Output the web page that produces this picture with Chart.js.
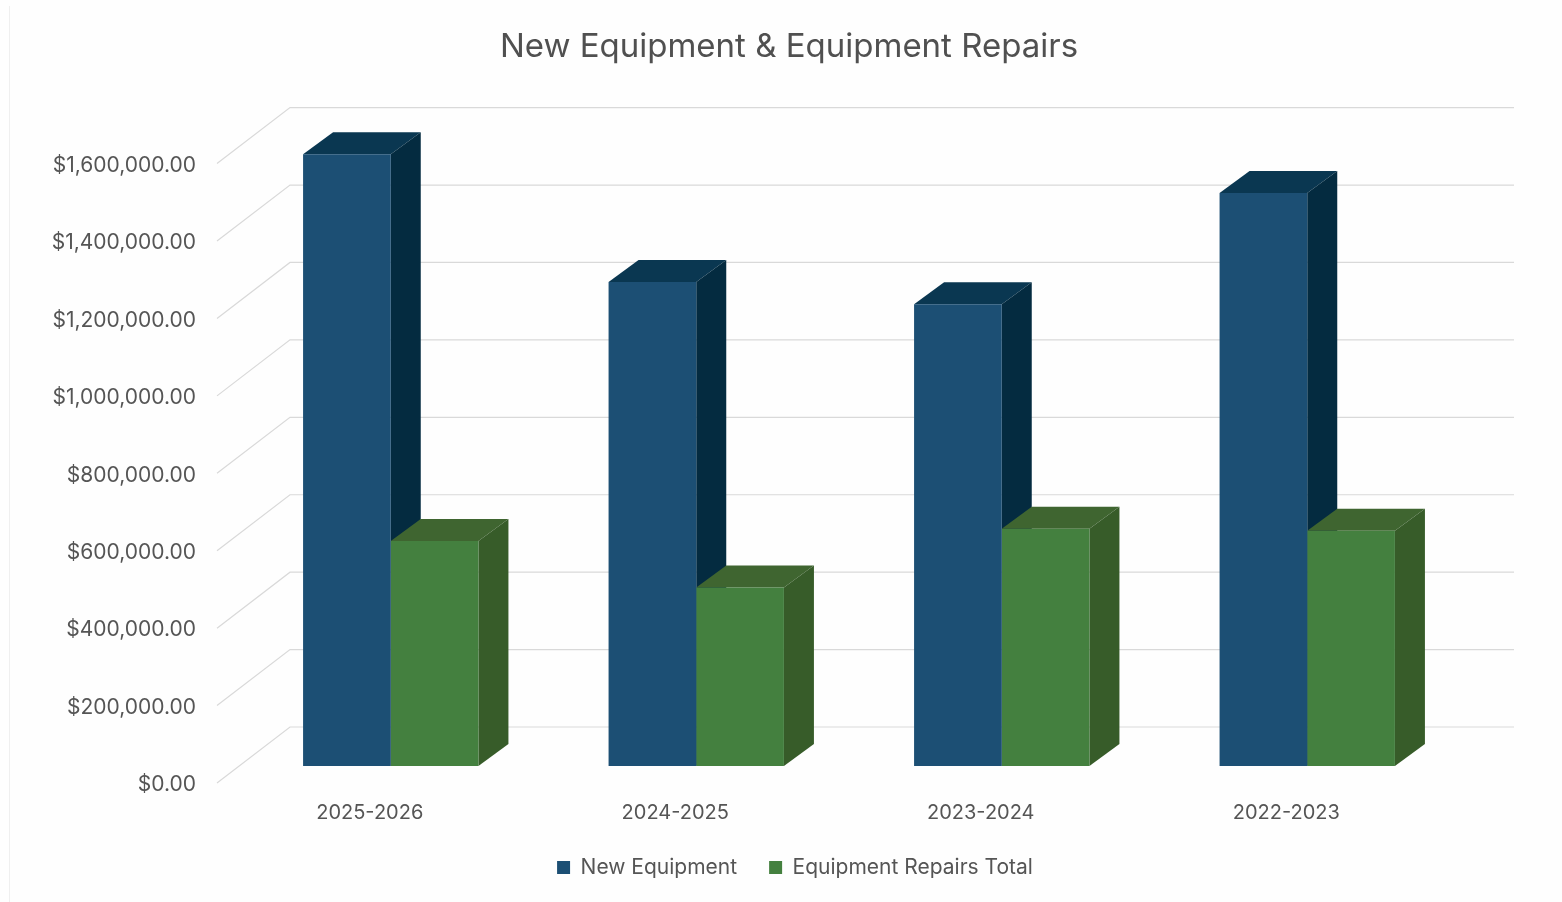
<!DOCTYPE html>
<html>
<head>
<meta charset="utf-8">
<title>New Equipment & Equipment Repairs</title>
<script src="https://cdn.jsdelivr.net/npm/chart.js@4"></script>
<style>
    html, body { margin: 0; padding: 0; background: #fefefe; }
    #wrap { position: relative; width: 1562px; height: 902px; overflow: hidden; }
    #paperEdge { position: absolute; left: 9px; top: 6px; width: 1px; height: 896px; background: #efefef; }
</style>
</head>
<body>
<div id="wrap">
    <div id="paperEdge"></div>
    <canvas id="equipChart" width="1562" height="902"></canvas>
</div>
<script>
const years = ['2025-2026', '2024-2025', '2023-2024', '2022-2023'];
const newEquipment = [1580000, 1250000, 1193000, 1480000];
const repairsTotal = [581000, 461000, 613000, 608000];
const tickStep = 200000;
const axisMax = 1600000;

const textColor = '#555555';
const fontName = 'Inter';

// bars sit part way into the floor, the walls at the back of it
const barShift = { x: 21, y: -17 };
const barDepth = { x: 30, y: -22 };
const wallDepth = { x: 73, y: -56 };

const faces = [
    { front: '#1c4f74', top: '#0a3751', side: '#042b40' },
    { front: '#44803f', top: '#3f6530', side: '#375c29' }
];

function polygon(ctx, pts, color) {
    ctx.fillStyle = color;
    ctx.beginPath();
    pts.forEach((p, i) => i ? ctx.lineTo(p[0], p[1]) : ctx.moveTo(p[0], p[1]));
    ctx.closePath();
    ctx.fill();
}

const walls = {
    id: 'walls',
    beforeDatasetsDraw(chart) {
        const ctx = chart.ctx;
        const yScale = chart.scales.y;
        const area = chart.chartArea;
        ctx.save();
        ctx.strokeStyle = '#d9d9d9';
        ctx.lineWidth = 1.2;
        for (let v = 0; v <= axisMax; v += tickStep) {
            const y = yScale.getPixelForValue(v);
            ctx.beginPath();
            ctx.moveTo(area.left, y);
            ctx.lineTo(area.left + wallDepth.x, y + wallDepth.y);
            ctx.lineTo(1514, y + wallDepth.y);
            ctx.stroke();
        }
        ctx.restore();
    },
    afterLayout(chart) {
        // legend sits a little right of the title in the original
        chart.legend.left += 6;
        chart.legend.right += 6;
    }
};

const bars3d = {
    id: 'bars3d',
    // top and side faces go down first, blue then green, so green covers the blue side
    beforeDatasetsDraw(chart) {
        const ctx = chart.ctx;
        ctx.save();
        ctx.translate(barShift.x, barShift.y);
        chart.data.datasets.forEach((ds, i) => {
            const color = faces[i];
            chart.getDatasetMeta(i).data.forEach(bar => {
                const l = bar.x - bar.width / 2;
                const r = bar.x + bar.width / 2;
                polygon(ctx, [[l, bar.y], [l + barDepth.x, bar.y + barDepth.y],
                    [r + barDepth.x, bar.y + barDepth.y], [r, bar.y]], color.top);
                polygon(ctx, [[r, bar.y], [r + barDepth.x, bar.y + barDepth.y],
                    [r + barDepth.x, bar.base + barDepth.y], [r, bar.base]], color.side);
            });
        });
        ctx.restore();
    },
    beforeDatasetDraw(chart) {
        chart.ctx.save();
        chart.ctx.translate(barShift.x, barShift.y);
    },
    afterDatasetDraw(chart) {
        chart.ctx.restore();
    }
};

new Chart(document.getElementById('equipChart'), {
    type: 'bar',
    data: {
        labels: years,
        datasets: [{
            label: 'New Equipment',
            data: newEquipment,
            backgroundColor: faces[0].front,
            clip: false
        }, {
            label: 'Equipment Repairs Total',
            data: repairsTotal,
            backgroundColor: faces[1].front,
            clip: false
        }]
    },
    options: {
        responsive: false,
        animation: false,
        layout: { padding: { left: 16, right: 0, top: 23, bottom: 14 } },
        datasets: { bar: { barPercentage: 1, categoryPercentage: 0.574 } },
        scales: {
            x: {
                grid: { display: false },
                border: { display: false },
                ticks: { color: textColor, font: { family: fontName, size: 20 }, padding: 10, maxRotation: 0 },
                afterFit(scale) { scale.height = 42; }
            },
            y: {
                min: 0,
                max: axisMax,
                grid: { display: false },
                border: { display: false },
                ticks: {
                    stepSize: tickStep,
                    color: textColor,
                    padding: 13,
                    labelOffset: 2,
                    font: { family: fontName, size: 21 },
                    callback: v => '$' + v.toLocaleString('en-US', { minimumFractionDigits: 2 })
                },
                afterFit(scale) { scale.width = 201; }
            },
            spacer: {
                position: 'right',
                grid: { display: false },
                border: { display: false },
                ticks: { display: false },
                afterFit(scale) { scale.width = 123; }
            }
        },
        plugins: {
            title: {
                display: true,
                text: 'New Equipment & Equipment Repairs',
                color: '#505050',
                font: { family: fontName, size: 33, weight: 'normal' },
                padding: { top: 4, bottom: 97 }
            },
            legend: {
                position: 'bottom',
                labels: {
                    color: textColor,
                    font: { family: fontName, size: 21 },
                    boxWidth: 13,
                    boxHeight: 13,
                    padding: 32
                }
            },
            tooltip: { enabled: false }
        }
    },
    plugins: [walls, bars3d]
});
</script>
</body>
</html>
